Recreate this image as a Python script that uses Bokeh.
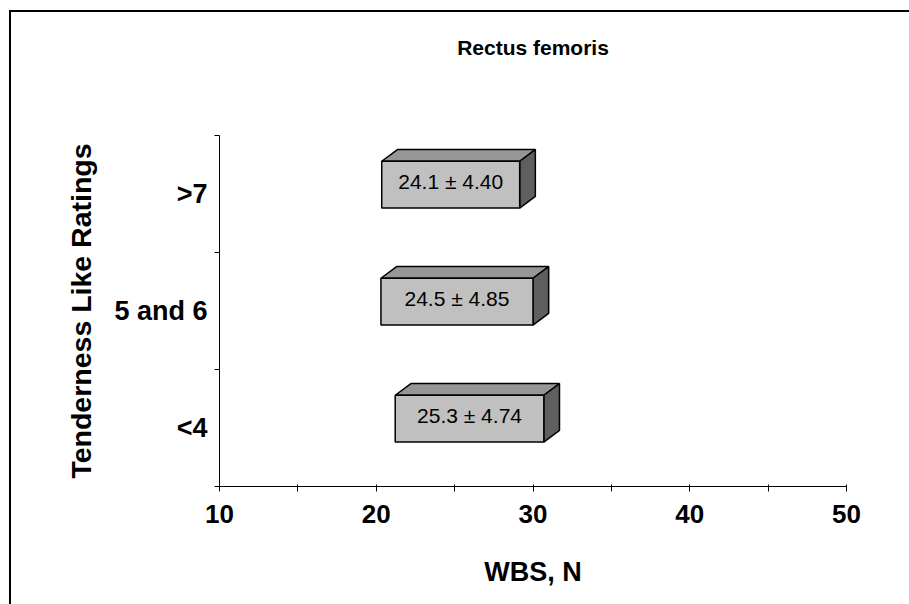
from bokeh.plotting import figure
from bokeh.models import Range1d, FixedTicker, ColumnDataSource, LinearAxis
from bokeh.core.properties import value
from bokeh.embed import file_html
from bokeh.resources import INLINE

# WBS (N) by tenderness-like rating group: mean and standard deviation
categories = ["<4", "5 and 6", ">7"]
means = [25.3, 24.5, 24.1]
sds = [4.74, 4.85, 4.40]

x_ticks = [10, 20, 30, 40, 50]
x_minor_ticks = [15, 25, 35, 45]

FONT = "Liberation Sans"

# pseudo-3D box styling (offsets in data units)
HALF_H = 0.20      # half height of the front face
FRONT_DX = 0.65    # perspective shift of the front face
FRONT_DY = 0.08
DEPTH_DX = 1.0     # depth of the box
DEPTH_DY = 0.10

p = figure(width=898, height=592, output_backend="svg", toolbar_location=None,
           x_range=Range1d(10, 50), y_range=Range1d(0, 3),
           min_border_left=208, min_border_right=63,
           min_border_top=123, min_border_bottom=118)
p.margin = (12, 0, 0, 11)
p.styles = {"outline": "2px solid black"}
p.outline_line_color = None
p.xgrid.visible = False
p.ygrid.visible = False
p.background_fill_color = "white"
p.border_fill_color = "white"

front = dict(left=[], right=[], bottom=[], top=[])
tops_x, tops_y, side_x, side_y = [], [], [], []
lab_x, lab_y, lab_t = [], [], []
for i, (m, s) in enumerate(zip(means, sds)):
    yc = i + 0.5 + FRONT_DY
    x0, x1 = m - s + FRONT_DX, m + s + FRONT_DX
    y0, y1 = yc - HALF_H, yc + HALF_H
    front["left"].append(x0)
    front["right"].append(x1)
    front["bottom"].append(y0)
    front["top"].append(y1)
    tops_x.append([x0, x1, x1 + DEPTH_DX, x0 + DEPTH_DX])
    tops_y.append([y1, y1, y1 + DEPTH_DY, y1 + DEPTH_DY])
    side_x.append([x1, x1 + DEPTH_DX, x1 + DEPTH_DX, x1])
    side_y.append([y1, y1 + DEPTH_DY, y0 + DEPTH_DY, y0])
    lab_x.append(m + FRONT_DX)
    lab_y.append(yc + 0.03)
    lab_t.append(f"{m:.1f} \u00b1 {s:.2f}")

p.patches(tops_x, tops_y, fill_color="#969696", line_color="black", line_width=1.5)
p.patches(side_x, side_y, fill_color="#5f5f5f", line_color="black", line_width=1.5)
p.quad(source=ColumnDataSource(front), left="left", right="right", bottom="bottom",
       top="top", fill_color="#c0c0c0", line_color="black", line_width=1.5)
p.text(x=lab_x, y=lab_y, text=lab_t, text_align="center", text_baseline="middle",
       text_font=value(FONT), text_font_size="21px", text_color="black")

# chart heading, carried by a bare axis above the frame
head = LinearAxis(ticker=FixedTicker(ticks=[]),
                  axis_label="Rectus femoris", axis_label_text_font=FONT,
                  axis_label_text_font_style="bold", axis_label_text_font_size="21px",
                  axis_label_text_color="black", axis_label_standoff=77,
                  axis_line_color=None, major_tick_line_color=None,
                  minor_tick_line_color=None, major_tick_in=0, major_tick_out=0,
                  minor_tick_in=0, minor_tick_out=0, major_label_standoff=0,
                  major_label_text_font_size="0px")
p.add_layout(head, "above")

# x axis
xa = p.below[0]
xa.ticker = FixedTicker(ticks=x_ticks, minor_ticks=x_minor_ticks)
xa.axis_label = "WBS, N"
xa.axis_label_text_font = FONT
xa.axis_label_text_font_style = "bold"
xa.axis_label_text_font_size = "27px"
xa.axis_label_text_color = "black"
xa.axis_label_standoff = 31
xa.major_label_text_font = FONT
xa.major_label_text_font_style = "bold"
xa.major_label_text_font_size = "26px"
xa.major_label_text_color = "black"
xa.major_label_standoff = 13
xa.major_tick_in = 2
xa.major_tick_out = 5
xa.minor_tick_in = 2
xa.minor_tick_out = 5
xa.axis_line_color = "black"
xa.major_tick_line_color = "black"
xa.minor_tick_line_color = "black"

# y axis: category names centred in bands, ticks on band edges
ya = p.left[0]
ya.ticker = FixedTicker(ticks=[i + 0.5 for i in range(len(categories))],
                        minor_ticks=list(range(len(categories) + 1)))
ya.major_label_overrides = {i + 0.5: c for i, c in enumerate(categories)}
ya.axis_label = "Tenderness Like Ratings"
ya.axis_label_text_font = FONT
ya.axis_label_text_font_style = "bold"
ya.axis_label_text_font_size = "28.5px"
ya.axis_label_text_color = "black"
ya.axis_label_standoff = 14
ya.major_label_text_font = FONT
ya.major_label_text_font_style = "bold"
ya.major_label_text_font_size = "27px"
ya.major_label_text_color = "black"
ya.major_label_standoff = 7
ya.major_label_orientation = "horizontal"
ya.major_tick_line_color = None
ya.major_tick_in = 0
ya.major_tick_out = 0
ya.minor_tick_in = 0
ya.minor_tick_out = 5
ya.minor_tick_line_color = "black"
ya.axis_line_color = "black"

open("out.html", "w").write(file_html(p, INLINE))
